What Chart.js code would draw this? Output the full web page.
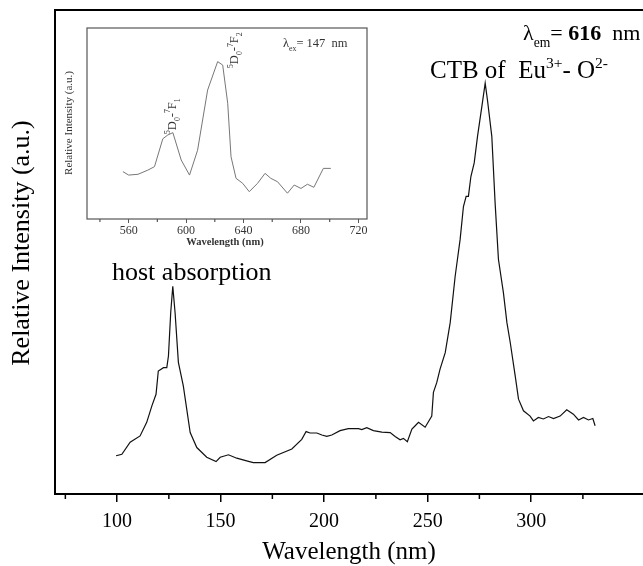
<!DOCTYPE html>
<html>
<head>
<meta charset="utf-8">
<script src="https://cdn.jsdelivr.net/npm/chart.js@4.4.1/dist/chart.umd.min.js"></script>
<style>
  html, body { margin: 0; padding: 0; background: #fff; overflow: hidden; }
  #wrap { position: relative; width: 643px; height: 566px; overflow: hidden; background: #fff; }
  #main-chart { position: absolute; left: 0; top: 0; }
  #inset-chart { position: absolute; left: 60px; top: 20px; }
</style>
</head>
<body>
<div id="wrap">
  <canvas id="main-chart" width="720" height="566"></canvas>
  <canvas id="inset-chart" width="315" height="232"></canvas>
</div>
<script>
// --- dados (excitação, λem = 616 nm) ---
const mainWavelength = [99.5, 102.3, 106.3, 111.1, 114.3, 116.8, 118.8, 119.9, 122.4, 124.0, 124.8, 125.9, 126.9, 128.0, 129.6, 132.0, 135.3, 138.5, 143.3, 147.8, 149.8, 153.8, 157.8, 163.9,
  165.8, 171.5, 177.1, 184.4, 189.2, 191.3, 193.2, 196.5, 198.9, 201.3, 203.7, 207.7, 211.7, 216.6, 218.2, 220.6, 223.8, 227.9, 231.9, 234.3, 236.7, 238.3, 240.2,
  242.4, 244.0, 245.6, 248.8, 252.0, 252.8, 254.4, 256.0, 258.5, 260.9, 263.3, 265.7, 267.3, 268.6, 269.7, 270.9, 272.5, 274.1, 276.2, 277.8, 278.9, 281.0,
  282.6, 284.2, 286.6, 288.3, 289.9, 292.3, 293.9, 296.3, 299.5, 301.1, 303.5, 305.9, 308.4, 310.8, 314.0, 317.2, 320.4, 322.9, 325.3, 327.7, 329.8, 330.9];
const mainIntensity = [7.9, 8.2, 10.7, 12.0, 14.8, 18.2, 20.6, 25.4, 26.1, 26.1, 28.5, 37.5, 42.9, 37.5, 27.2, 22.3, 12.7, 9.6, 7.6, 6.7, 7.6, 8.1, 7.4, 6.7,
  6.5, 6.5, 8.0, 9.3, 11.3, 12.9, 12.6, 12.6, 12.2, 11.9, 12.2, 13.1, 13.5, 13.5, 13.3, 13.7, 13.1, 12.8, 12.7, 11.9, 11.2, 11.5, 10.8,
  13.4, 14.1, 14.8, 13.8, 16.1, 21.0, 23.0, 25.8, 29.2, 35.4, 45.0, 52.6, 59.4, 61.5, 61.5, 65.6, 68.4, 73.9, 80.1, 84.9, 81.4, 73.9,
  60.1, 48.5, 41.6, 35.4, 31.3, 24.4, 19.6, 17.2, 16.1, 15.1, 15.8, 15.5, 16.0, 15.6, 16.1, 17.4, 16.5, 15.3, 15.8, 15.3, 15.6, 14.1];

// inset: emissão, λex = 147 nm
const insetWavelength = [556, 560, 566.5, 573.4, 578, 583.8, 587.3, 590.8, 596.6, 602.4, 608, 615, 622, 625.5, 629, 631.3, 634.8, 639.4, 644, 649.8, 655, 659, 663.7, 670.6, 675.3, 680, 684.5, 689, 695.6, 700.8];
const insetIntensity = [24.8, 23, 23.4, 25.6, 27.4, 42, 44, 45.2, 30.9, 23, 36, 67.5, 82.4, 80.6, 60.6, 32.6, 21.3, 18.7, 14.3, 18.7, 23.9, 21.3, 19.5, 13.5, 17.8, 16, 18.2, 16.6, 26.5, 26.5];

const mainTicks = [100, 150, 200, 250, 300];
const mainMinorTicks = [75, 125, 175, 225, 275, 325];
const insetTicks = [560, 600, 640, 680, 720];
const insetMinorTicks = [540, 580, 620, 660, 700];

const SERIF = '"Liberation Serif", "Times New Roman", serif';

function toPoints(xs, ys) {
    return xs.map((x, i) => ({ x: x, y: ys[i] }));
}

// texto com sobrescrito / subscrito
function drawRuns(ctx, x, y, runs, size) {
    let cx = x;
    runs.forEach(([t, kind]) => {
        const small = kind === 'sup' || kind === 'sub';
        const fs = small ? size * 0.62 : size;
        ctx.font = `${kind === 'b' ? 'bold ' : ''}${fs}px ${SERIF}`;
        const dy = kind === 'sup' ? -size * 0.42 : kind === 'sub' ? size * 0.32 : 0;
        ctx.fillText(t, cx, y + dy);
        cx += ctx.measureText(t).width;
    });
}

function minorTicks(ctx, chart, values, len) {
    const { bottom } = chart.chartArea;
    const sx = chart.scales.x;
    values.forEach(v => {
        if (v < sx.min || v > sx.max) return;
        const px = sx.getPixelForValue(v);
        ctx.beginPath();
        ctx.moveTo(px, bottom);
        ctx.lineTo(px, bottom + len);
        ctx.stroke();
    });
}

const mainDecor = {
    id: 'mainDecor',
    afterDraw(chart) {
        const ctx = chart.ctx;
        const { left, top, right, bottom } = chart.chartArea;
        ctx.save();
        ctx.strokeStyle = '#000';
        ctx.lineWidth = 2;
        ctx.strokeRect(left, top, right - left, bottom - top);
        ctx.lineWidth = 1.5;
        minorTicks(ctx, chart, mainMinorTicks, 5);

        ctx.fillStyle = '#000';
        ctx.textAlign = 'left';
        ctx.textBaseline = 'alphabetic';
        drawRuns(ctx, 112, 280, [['host absorption', '']], 26);
        drawRuns(ctx, 430, 78, [['CTB of  Eu', ''], ['3+', 'sup'], ['- O', ''], ['2-', 'sup']], 25);
        drawRuns(ctx, 523, 40, [['λ', ''], ['em', 'sub'], ['= ', ''], ['616', 'b'], ['  nm', '']], 22);

        ctx.font = `25px ${SERIF}`;
        ctx.textAlign = 'center';
        ctx.textBaseline = 'middle';
        ctx.fillText('Wavelength (nm)', 349, 552);
        ctx.font = `26px ${SERIF}`;
        ctx.translate(22, 243);
        ctx.rotate(-Math.PI / 2);
        ctx.fillText('Relative Intensity (a.u.)', 0, 0);
        ctx.restore();
    }
};

const insetDecor = {
    id: 'insetDecor',
    beforeDraw(chart) {
        const ctx = chart.ctx;
        ctx.save();
        ctx.fillStyle = '#fff';
        ctx.fillRect(0, 0, chart.width, chart.height);
        ctx.restore();
    },
    afterDraw(chart) {
        const ctx = chart.ctx;
        const { left, top, right, bottom } = chart.chartArea;
        ctx.save();
        ctx.strokeStyle = '#555';
        ctx.lineWidth = 1.2;
        ctx.strokeRect(left, top, right - left, bottom - top);
        minorTicks(ctx, chart, insetMinorTicks, 3);

        ctx.fillStyle = '#333';
        ctx.textAlign = 'left';
        ctx.textBaseline = 'alphabetic';
        drawRuns(ctx, 223, 27, [['λ', ''], ['ex', 'sub'], ['= 147  nm', '']], 12.5);

        const rotLabel = (ox, oy, last) => {
            ctx.save();
            ctx.translate(ox, oy);
            ctx.rotate(-Math.PI / 2);
            drawRuns(ctx, 0, 0, [['5', 'sup'], ['D', ''], ['0', 'sub'], ['-', ''], ['7', 'sup'], ['F', ''], [last, 'sub']], 12.5);
            ctx.restore();
        };
        rotLabel(115.5, 114, '1');
        rotLabel(178, 48, '2');

        ctx.textAlign = 'center';
        ctx.textBaseline = 'middle';
        ctx.font = `bold 10.5px ${SERIF}`;
        ctx.fillText('Wavelength (nm)', 165, 222);
        ctx.font = `11px ${SERIF}`;
        ctx.translate(9, 103);
        ctx.rotate(-Math.PI / 2);
        ctx.fillText('Relative Intensity (a.u.)', 0, 0);
        ctx.restore();
    }
};

new Chart(document.getElementById('main-chart'), {
    type: 'line',
    data: {
        datasets: [{
            data: toPoints(mainWavelength, mainIntensity),
            borderColor: '#111',
            borderWidth: 1.2,
            pointRadius: 0,
            tension: 0,
            fill: false
        }]
    },
    options: {
        responsive: false,
        animation: false,
        layout: { padding: { top: 10, right: 10, left: 0, bottom: 0 } },
        plugins: { legend: { display: false }, tooltip: { enabled: false } },
        scales: {
            x: {
                type: 'linear', min: 70, max: 386.4,
                afterBuildTicks: s => { s.ticks = mainTicks.map(v => ({ value: v })); },
                afterFit: s => { s.height = 72; },
                grid: { drawOnChartArea: false, drawTicks: true, tickLength: 8, color: '#000', lineWidth: 1.5 },
                border: { display: false },
                ticks: { color: '#000', font: { family: SERIF, size: 20 }, padding: 8, maxRotation: 0, autoSkip: false }
            },
            y: {
                min: 0, max: 100,
                afterFit: s => { s.width = 55; },
                ticks: { display: false },
                grid: { display: false },
                border: { display: false }
            }
        }
    },
    plugins: [mainDecor]
});

new Chart(document.getElementById('inset-chart'), {
    type: 'line',
    data: {
        datasets: [{
            data: toPoints(insetWavelength, insetIntensity),
            borderColor: '#777',
            borderWidth: 1,
            pointRadius: 0,
            tension: 0,
            fill: false
        }]
    },
    options: {
        responsive: false,
        animation: false,
        layout: { padding: { top: 8, right: 8, left: 0, bottom: 0 } },
        plugins: { legend: { display: false }, tooltip: { enabled: false } },
        scales: {
            x: {
                type: 'linear', min: 531, max: 726,
                afterBuildTicks: s => { s.ticks = insetTicks.map(v => ({ value: v })); },
                afterFit: s => { s.height = 33; },
                grid: { drawOnChartArea: false, drawTicks: true, tickLength: 4, color: '#555', lineWidth: 1 },
                border: { display: false },
                ticks: { color: '#333', font: { family: SERIF, size: 12 }, padding: 1, maxRotation: 0, autoSkip: false }
            },
            y: {
                min: 0, max: 100,
                afterFit: s => { s.width = 27; },
                ticks: { display: false },
                grid: { display: false },
                border: { display: false }
            }
        }
    },
    plugins: [insetDecor]
});
</script>
</body>
</html>
